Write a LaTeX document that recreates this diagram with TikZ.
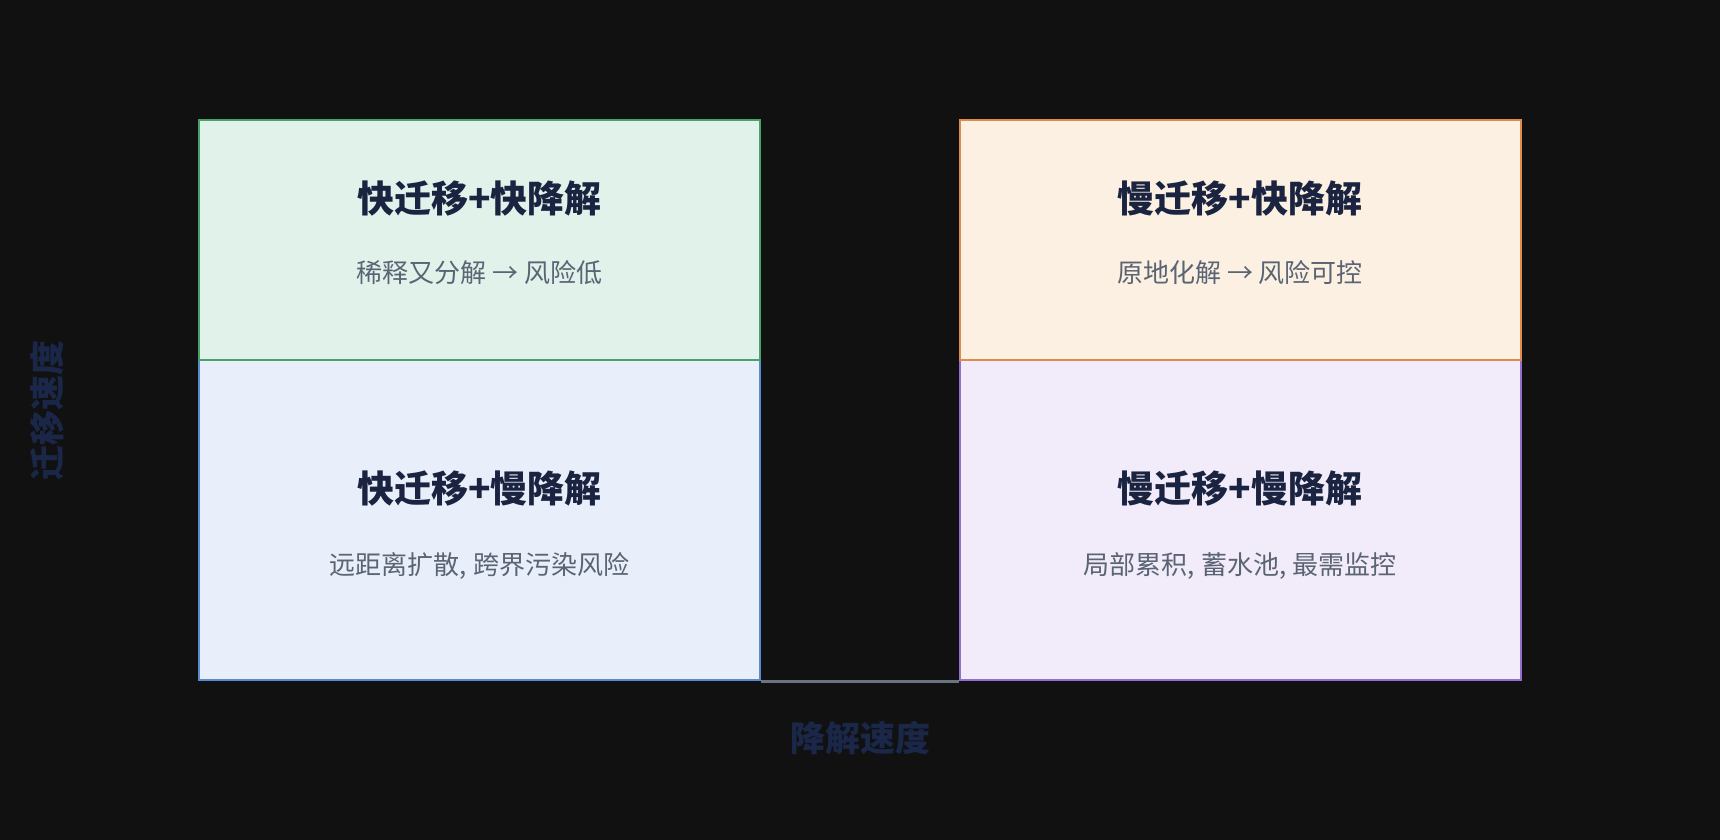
\documentclass[tikz,border=0pt]{standalone}
\usepackage{fontspec}
\newfontfamily\cjk{Noto Sans CJK SC}
\definecolor{bgdark}{HTML}{111111}
\definecolor{navy}{HTML}{1A2340}
\definecolor{axisnavy}{HTML}{1B2748}
\definecolor{subgrey}{HTML}{5B6474}
\definecolor{axisgrey}{HTML}{6B7280}
\definecolor{greenline}{HTML}{48A26B}
\definecolor{greenfill}{HTML}{E0F2E9}
\definecolor{orangeline}{HTML}{E08B4A}
\definecolor{orangefill}{HTML}{FBF0E1}
\definecolor{blueline}{HTML}{5A8AD0}
\definecolor{bluefill}{HTML}{E8EFFA}
\definecolor{purpleline}{HTML}{9370D0}
\definecolor{purplefill}{HTML}{F2ECFA}
\begin{document}
\begin{tikzpicture}[x=0.5pt, y=-0.5pt,
		quad/.style={rectangle, inner sep=0pt, line width=1pt, minimum width=280.5pt},
		title/.style={font=\cjk\bfseries\fontsize{18.5}{22}\selectfont, text=navy},
		sub/.style={font=\cjk\fontsize{13}{16}\selectfont, text=subgrey},
		axislabel/.style={font=\cjk\bfseries\fontsize{17.5}{21}\selectfont, text=axisnavy}]
	\fill[bgdark] (0,0) rectangle (1720,840);
	\useasboundingbox (0,0) rectangle (1720,840);
	% lower row
	\node[quad, minimum height=160pt, draw=blueline, fill=bluefill] (Q_1_0) at (479.5,520) {};
	\node[quad, minimum height=160pt, draw=purpleline, fill=purplefill] (Q_1_1) at (1240,520) {};
	% upper row
	\node[quad, minimum height=120pt, draw=greenline, fill=greenfill] (Q_0_0) at (479.5,240) {};
	\node[quad, minimum height=120pt, draw=orangeline, fill=orangefill] (Q_0_1) at (1240,240) {};
	\draw[axisgrey, line width=1.5pt] (Q_1_0.south east) -- (Q_1_1.south west);
	% texts
	\node[title] (T_0_0) at (479.5,199) {快迁移+快降解};
	\node[sub] (S_0_0) at (479.5,272.5) {稀释又分解 → 风险低};
	\node[title] (T_0_1) at (1240,199) {慢迁移+快降解};
	\node[sub] (S_0_1) at (1240,272.5) {原地化解 → 风险可控};
	\node[title] (T_1_0) at (479.5,489) {快迁移+慢降解};
	\node[sub] (S_1_0) at (479.5,565.5) {远距离扩散, 跨界污染风险};
	\node[title] (T_1_1) at (1240,489) {慢迁移+慢降解};
	\node[sub] (S_1_1) at (1240,565.5) {局部累积, 蓄水池, 最需监控};
	\node[axislabel] (L_x) at (860,738.5) {降解速度};
	\node[axislabel, rotate=90] (L_y) at (47,410) {迁移速度};
\end{tikzpicture}
\end{document}
